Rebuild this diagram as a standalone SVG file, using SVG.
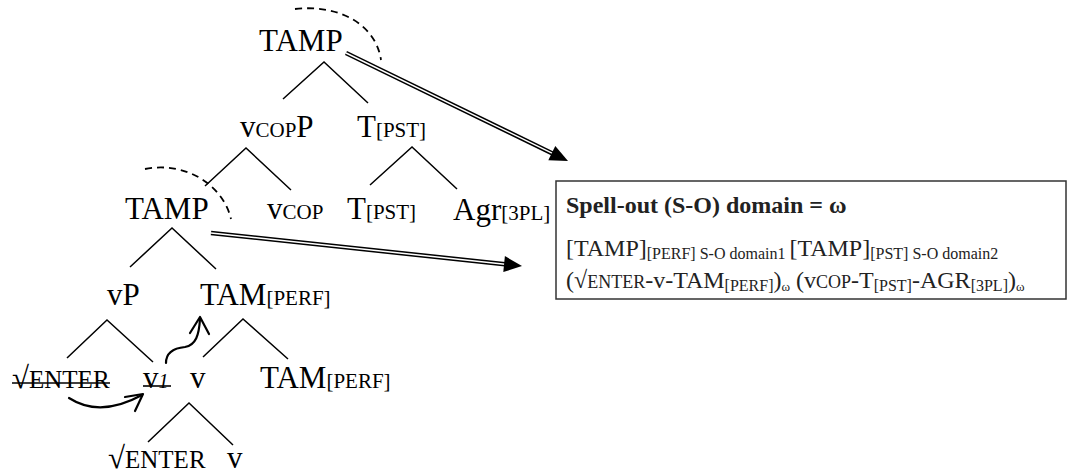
<svg xmlns="http://www.w3.org/2000/svg" width="1070" height="476" viewBox="0 0 1070 476">
<style>
.t{font-family:"Liberation Serif","Times New Roman",serif;font-size:31px;fill:#000}
.s{font-size:21px}
.e{font-size:25px}
.br{stroke:#000;stroke-width:1.5;fill:none}
.dash{stroke:#000;stroke-width:1.8;fill:none;stroke-dasharray:7 5}
.dbl{stroke:#000;stroke-width:4.5;fill:none}
.dbw{stroke:#fff;stroke-width:1.5;fill:none}
.mv{stroke:#000;stroke-width:2.2;fill:none;stroke-linecap:round;stroke-linejoin:round}
.strike{stroke:#000;stroke-width:1.6}
.bx{font-family:"Liberation Serif","Times New Roman",serif;font-size:24px;fill:#222}
.bs{font-size:16px}
.bc{font-size:18px}
.bw{font-size:13px}
</style>
<rect width="1070" height="476" fill="#fff"/>
<g id="connectors">
  <path class="br" d="M283,99 L324,62 L368,103"/>
  <path class="br" d="M205,186 L246,148 L291,190"/>
  <path class="br" d="M370,185 L412,147 L457,189"/>
  <path class="br" d="M130,267 L172,228 L216,269"/>
  <path class="br" d="M67,358 L107,320 L153,362"/>
  <path class="br" d="M203,357 L243,319 L288,359"/>
  <path class="br" d="M148,442 L189,403 L233,445"/>
  <path class="dash" d="M295,9 C340,4 376,25 381,60"/>
  <path class="dash" d="M145,169 C186,161 223,185 231,219"/>
  <path class="dbl" d="M346,53 L552.5,153.4"/>
  <path class="dbw" d="M346,53 L552.5,153.4"/>
  <polygon points="568,161 548.3,160.3 555.3,145.9" fill="#000"/>
  <path class="dbl" d="M211,233 L505,264.2"/>
  <path class="dbw" d="M211,233 L505,264.2"/>
  <polygon points="522,266 503.3,272.1 504.9,256.1" fill="#000"/>
  <path class="mv" d="M69,398 Q100,418 142,395"/>
  <path class="mv" d="M125,397 L143,394 L135,411"/>
  <path class="mv" d="M166,363 C166,352 175,348 185,347 C196,345 199,335 200,319"/>
  <path class="mv" d="M190,333 L200,317 L209,334"/>
</g>
<g id="tamp-top"><text class="t" x="259" y="51">TAMP</text></g>
<g id="vcopP"><text class="t" x="240" y="137">v<tspan class="s">COP</tspan>P</text></g>
<g id="t-pst-top"><text class="t" x="357" y="137">T<tspan class="s">[PST]</tspan></text></g>
<g id="tamp-mid"><text class="t" x="125" y="219">TAMP</text></g>
<g id="vcop"><text class="t" x="267" y="219">v<tspan class="s">COP</tspan></text></g>
<g id="t-pst"><text class="t" x="347" y="219">T<tspan class="s">[PST]</tspan></text></g>
<g id="agr"><text class="t" x="453" y="220">Agr<tspan class="s">[3PL]</tspan></text></g>
<g id="vP"><text class="t" x="107" y="305">vP</text></g>
<g id="tam-perf-top"><text class="t" x="200" y="305">TAM<tspan class="s">[PERF]</tspan></text></g>
<g id="enter-struck"><text class="t" x="12" y="388">√<tspan class="e">ENTER</tspan></text><line class="strike" x1="12" y1="383" x2="110" y2="383"/></g>
<g id="v1-struck"><text class="t" x="143" y="388">v<tspan font-size="20" font-style="italic">1</tspan></text><line class="strike" x1="143" y1="386" x2="171" y2="386"/></g>
<g id="v-mid"><text class="t" x="190" y="388">v</text></g>
<g id="tam-perf"><text class="t" x="260" y="388">TAM<tspan class="s">[PERF]</tspan></text></g>
<g id="enter"><text class="t" x="108" y="468">√<tspan class="e">ENTER</tspan></text></g>
<g id="v-low"><text class="t" x="227" y="468">v</text></g>
<g id="spellout-box">
  <rect x="556" y="181" width="510" height="118" fill="#fff" stroke="#333" stroke-width="1.5"/>
  <text class="bx" x="566" y="213" font-size="26" font-weight="bold" fill="#000">Spell-out (S-O) domain = ω</text>
  <text class="bx" x="566" y="256">[TAMP]<tspan class="bs" dy="3">[PERF] S-O domain1 </tspan><tspan dy="-3">[TAMP]</tspan><tspan class="bs" dy="3">[PST] S-O domain2</tspan></text>
  <text class="bx" x="566" y="288" font-size="25">(√<tspan class="bc">ENTER</tspan>-v-TAM<tspan class="bs" dy="3">[PERF]</tspan><tspan dy="-3">)</tspan><tspan class="bw" dy="3">ω</tspan><tspan dy="-3"> (v</tspan><tspan class="bc">COP</tspan>-T<tspan class="bs" dy="3">[PST]</tspan><tspan dy="-3">-AGR</tspan><tspan class="bs" dy="3">[3PL]</tspan><tspan dy="-3">)</tspan><tspan class="bw" dy="3">ω</tspan></text>
</g>
</svg>
